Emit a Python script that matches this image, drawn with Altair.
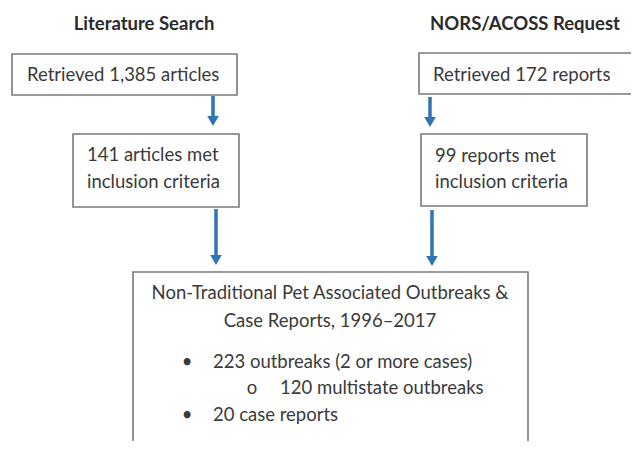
import altair as alt
import pandas as pd

# ---- content ----
headers = ["Literature Search", "NORS/ACOSS Request"]
left_lines = ["Retrieved 1,385 articles", "141 articles met", "inclusion criteria"]
right_lines = ["Retrieved 172 reports", "99 reports met", "inclusion criteria"]
result_lines = ["Non-Traditional Pet Associated Outbreaks &", "Case Reports, 1996\u20132017"]
bullet_marks = ["\u2022", "o", "\u2022"]
bullet_lines = ["223 outbreaks (2 or more cases)", "120 multistate outbreaks", "20 case reports"]

# ---- layout (page pixel coordinates) ----
W, H = 623, 433
OX, OY = 8, 8
FONT = "Lato"
FS = 18.5
TEXT_COLOR = "#3a3a3a"
BOX_STROKE = "#7a7a7a"
ARROW = "#2e75b6"

boxes = pd.DataFrame({
    "x": [12, 73, 419, 421, 133],
    "x2": [237, 239, 660, 587, 528],
    "y": [54, 134, 53, 134, 272],
    "y2": [95, 207, 94, 206, 470],
})

texts = pd.DataFrame({
    "text": headers + left_lines + right_lines + result_lines
            + bullet_marks + bullet_lines,
    "x": [144, 525, 27, 87, 87, 433, 435, 435, 330, 330,
          187, 252, 187, 213, 280, 213],
    "y": [30, 30, 81, 161, 188, 81, 162, 188, 299, 327,
          368, 394, 421, 368, 394, 421],
    "align": ["center", "center", "left", "left", "left", "left", "left", "left",
              "center", "center", "center", "center", "center", "left", "left", "left"],
    "weight": ["bold", "bold"] + ["normal"] * 14,
})

arrows = pd.DataFrame({
    "x": [213, 216, 430, 432],
    "y": [96, 209, 97, 210],
    "tip": [126, 265, 127, 266],
})
arrows["head"] = arrows["tip"] - 5
arrows["shaft_end"] = arrows["tip"] - 6

xs = alt.Scale(domain=[OX, OX + W], range=[0, W], nice=False, zero=False)
ys = alt.Scale(domain=[OY, OY + H], range=[0, H], nice=False, zero=False)

X = lambda f: alt.X(f, type="quantitative", scale=xs, axis=None)
Y = lambda f: alt.Y(f, type="quantitative", scale=ys, axis=None)

box_layer = alt.Chart(boxes).mark_rect(
    fill="white", stroke=BOX_STROKE, strokeWidth=1.6, clip=True
).encode(x=X("x"), x2="x2", y=Y("y"), y2="y2")

shaft_layer = alt.Chart(arrows).mark_rule(
    color=ARROW, strokeWidth=3.5
).encode(x=X("x"), y=Y("y"), y2="shaft_end")

head_layer = alt.Chart(arrows).mark_point(
    shape="triangle-down", filled=True, color=ARROW, size=135, opacity=1
).encode(x=X("x"), y=Y("head"))

def text_layer(align, weight):
    d = texts[(texts["align"] == align) & (texts["weight"] == weight)]
    return alt.Chart(d).mark_text(
        align=align, baseline="alphabetic", font=FONT, fontSize=FS,
        fontWeight=weight, color=TEXT_COLOR if weight == "normal" else "#2b2b2b"
    ).encode(x=X("x"), y=Y("y"), text="text:N")

chart = alt.layer(
    box_layer, shaft_layer, head_layer,
    text_layer("center", "bold"), text_layer("left", "normal"),
    text_layer("center", "normal"),
).properties(
    width=W, height=H, autosize=alt.AutoSizeParams(type="none"), padding=0
).configure_view(stroke=None)

chart.save("out.html", embed_options={"renderer": "svg", "actions": False})
